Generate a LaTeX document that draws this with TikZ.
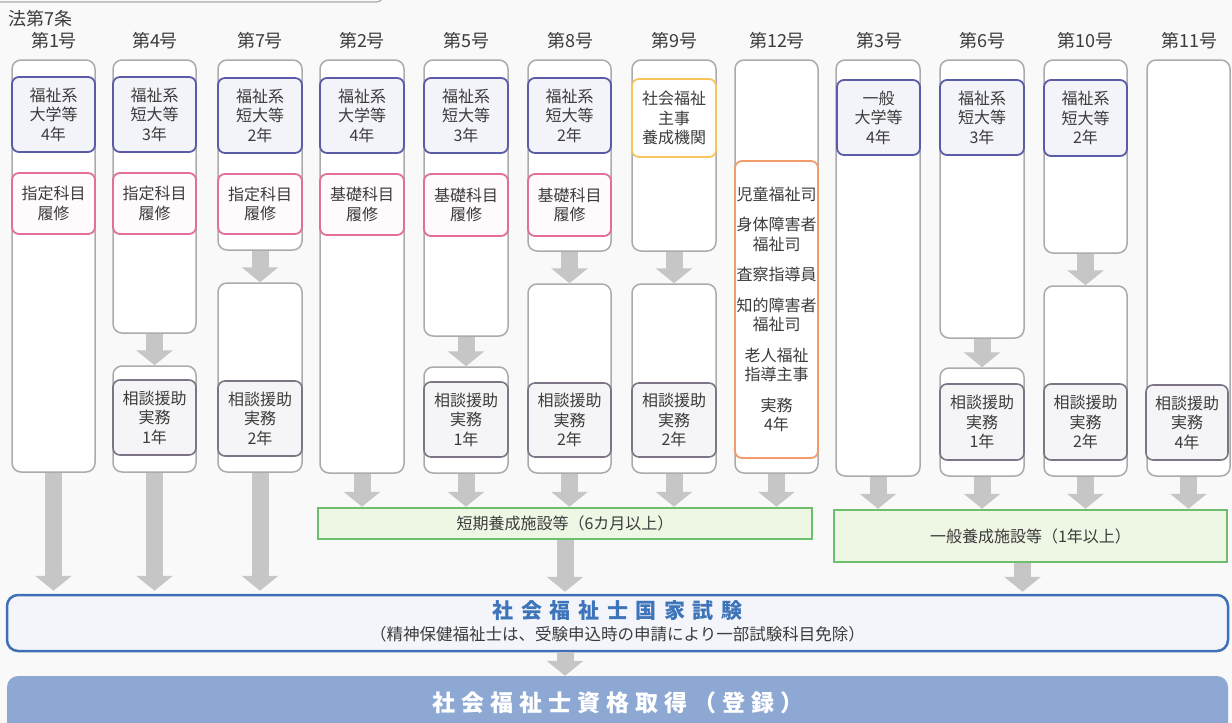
\documentclass[tikz,border=0pt]{standalone}
\usepackage{fontspec}
\setmainfont{Noto Sans CJK JP}
\newfontfamily\examfont[LetterSpace=36]{Noto Sans CJK JP}
\newfontfamily\finalfont[LetterSpace=26]{Noto Sans CJK JP}
\usetikzlibrary{arrows.meta}
\definecolor{bgc}{HTML}{F9F9F9}
\definecolor{gboxc}{HTML}{ABABAB}
\definecolor{bluc}{HTML}{5A5CA8}
\definecolor{bluf}{HTML}{F3F3FA}
\definecolor{pinkc}{HTML}{E46E9B}
\definecolor{pinkf}{HTML}{FFFAFC}
\definecolor{yelc}{HTML}{F7C55C}
\definecolor{orc}{HTML}{F39C6B}
\definecolor{grc}{HTML}{7D7585}
\definecolor{grf}{HTML}{F5F5F7}
\definecolor{grnc}{HTML}{6DBF6E}
\definecolor{grnf}{HTML}{EEF6E4}
\definecolor{examc}{HTML}{3E70B6}
\definecolor{examf}{HTML}{F3F5FA}
\definecolor{examt}{HTML}{3D74BA}
\definecolor{finalf}{HTML}{8EA8D4}
\definecolor{arrc}{HTML}{C6C6C6}
\definecolor{txtc}{HTML}{3C3C3C}
\newcommand\boxat[7]{%
  \node[#1, minimum width={(#4-#3)*1pt}, minimum height={(#6-#5)*1pt}] (#2) at ({(#3+#4)/2},{(#5+#6)/2}) {#7};}
\tikzset{
  base/.style={inner sep=0pt, align=center, text=txtc, font=\fontsize{16}{19.5}\selectfont},
  obox/.style={base, draw=gboxc, line width=1.5pt, rounded corners=9pt, fill=white},
  blu/.style={base, draw=bluc, line width=1.8pt, rounded corners=7pt, fill=bluf},
  pnk/.style={base, draw=pinkc, line width=1.8pt, rounded corners=7pt, fill=pinkf},
  yel/.style={base, draw=yelc, line width=1.8pt, rounded corners=7pt, fill=white},
  orb/.style={base, draw=orc, line width=1.8pt, rounded corners=7pt, fill=white},
  gry/.style={base, draw=grc, line width=1.6pt, rounded corners=7pt, fill=grf},
  grn/.style={base, draw=grnc, line width=2.5pt, fill=grnf},
  hdr/.style={inner sep=0pt, text=txtc, font=\fontsize{18}{20}\selectfont},
  barrow/.style={draw=arrc, line width=17pt, -{Triangle[width=36pt,length=15pt]}},
}
\begin{document}
\begin{tikzpicture}[x=1pt,y=-1pt]
\useasboundingbox (0,0) rectangle (1232,723);
\fill[bgc] (0,0) rectangle (1232,723);
\draw[gboxc, line width=1.2pt] (0,2) -- (376,2) to[out=0,in=-90] (384,-6);

% headers
\node[hdr, anchor=west] (law) at (8,19) {法第7条};
\node[hdr] (h1) at (54,41) {第1号};
\node[hdr] (h2) at (155,41) {第4号};
\node[hdr] (h3) at (260,41) {第7号};
\node[hdr] (h4) at (362,41) {第2号};
\node[hdr] (h5) at (466,41) {第5号};
\node[hdr] (h6) at (570,41) {第8号};
\node[hdr] (h7) at (674,41) {第9号};
\node[hdr] (h8) at (777,41) {第12号};
\node[hdr] (h9) at (879,41) {第3号};
\node[hdr] (h10) at (982,41) {第6号};
\node[hdr] (h11) at (1085,41) {第10号};
\node[hdr] (h12) at (1189,41) {第11号};

% column 1
\boxat{obox}{c1}{12}{95}{60}{472}{}
\boxat{blu}{c1b}{12}{95}{77}{152}{福祉系\\大学等\\4年}
\boxat{pnk}{c1p}{12}{95}{173}{234}{指定科目\\履修}
% column 2
\boxat{obox}{c2u}{113}{196}{60}{333}{}
\boxat{blu}{c2b}{113}{196}{77}{152}{福祉系\\短大等\\3年}
\boxat{pnk}{c2p}{113}{196}{173}{234}{指定科目\\履修}
\boxat{obox}{c2l}{113}{196}{366}{472}{}
\boxat{gry}{c2g}{113}{196}{380}{455}{相談援助\\実務\\1年}
% column 3
\boxat{obox}{c3u}{218}{302}{60}{250}{}
\boxat{blu}{c3b}{218}{302}{78}{153}{福祉系\\短大等\\2年}
\boxat{pnk}{c3p}{218}{302}{174}{234}{指定科目\\履修}
\boxat{obox}{c3l}{218}{302}{283}{472}{}
\boxat{gry}{c3g}{218}{302}{381}{456}{相談援助\\実務\\2年}
% column 4
\boxat{obox}{c4}{320}{404}{60}{473}{}
\boxat{blu}{c4b}{320}{404}{78}{153}{福祉系\\大学等\\4年}
\boxat{pnk}{c4p}{320}{404}{174}{235}{基礎科目\\履修}
% column 5
\boxat{obox}{c5u}{424}{508}{60}{336}{}
\boxat{blu}{c5b}{424}{508}{78}{153}{福祉系\\短大等\\3年}
\boxat{pnk}{c5p}{424}{508}{174}{236}{基礎科目\\履修}
\boxat{obox}{c5l}{424}{508}{367}{473}{}
\boxat{gry}{c5g}{424}{508}{382}{457}{相談援助\\実務\\1年}
% column 6
\boxat{obox}{c6u}{528}{611}{60}{251}{}
\boxat{blu}{c6b}{528}{611}{78}{153}{福祉系\\短大等\\2年}
\boxat{pnk}{c6p}{528}{611}{174}{236}{基礎科目\\履修}
\boxat{obox}{c6l}{528}{611}{284}{473}{}
\boxat{gry}{c6g}{528}{611}{383}{457}{相談援助\\実務\\2年}
% column 7
\boxat{obox}{c7u}{632}{716}{60}{251}{}
\boxat{yel}{c7y}{632}{716}{79}{157}{社会福祉\\主事\\養成機関}
\boxat{obox}{c7l}{632}{716}{284}{473}{}
\boxat{gry}{c7g}{632}{716}{383}{457}{相談援助\\実務\\2年}
% column 8
\boxat{obox}{c8}{735}{818}{60}{473}{}
\boxat{orb}{c8o}{735}{818}{161}{458}{児童福祉司\\[11pt]身体障害者\\福祉司\\[11pt]査察指導員\\[11pt]知的障害者\\福祉司\\[11pt]老人福祉\\指導主事\\[11pt]実務\\4年}
% column 9
\boxat{obox}{c9}{836}{920}{60}{476}{}
\boxat{blu}{c9b}{837}{920}{80}{155}{一般\\大学等\\4年}
% column 10
\boxat{obox}{c10u}{940}{1024}{60}{338}{}
\boxat{blu}{c10b}{940}{1024}{80}{155}{福祉系\\短大等\\3年}
\boxat{obox}{c10l}{940}{1024}{368}{476}{}
\boxat{gry}{c10g}{940}{1024}{384}{460}{相談援助\\実務\\1年}
% column 11
\boxat{obox}{c11u}{1044}{1127}{60}{253}{}
\boxat{blu}{c11b}{1044}{1127}{80}{156}{福祉系\\短大等\\2年}
\boxat{obox}{c11l}{1044}{1127}{286}{476}{}
\boxat{gry}{c11g}{1044}{1127}{384}{460}{相談援助\\実務\\2年}
% column 12
\boxat{obox}{c12}{1147}{1230}{60}{476}{}
\boxat{gry}{c12g}{1146}{1228}{385}{460}{相談援助\\実務\\4年}

% training facilities
\boxat{grn}{g1}{318}{812}{508}{539}{短期養成施設等（6カ月以上）}
\boxat{grn}{g2}{834}{1227}{510}{562}{一般養成施設等（1年以上）}

% exam
\node[draw=examc, line width=2.5pt, fill=examf, rounded corners=11pt, minimum width=1221pt, minimum height=56pt, inner sep=0pt] (exam) at (617.5,623) {};
\node[inner sep=0pt, text=examt, font=\examfont\bfseries\fontsize{21}{24}\selectfont] (examtitle) at ([yshift=12pt]exam.center) {社会福祉士国家試験};
\node[inner sep=0pt, text=txtc, font=\fontsize{16.5}{18}\selectfont] (examsub) at ([yshift=-11pt]exam.center) {（精神保健福祉士は、受験申込時の申請により一部試験科目免除）};

% final
\node[fill=finalf, rounded corners=11pt, minimum width=1221pt, minimum height=70pt, inner sep=0pt] (final) at (617.5,711) {};
\node[inner sep=0pt, text=white, font=\finalfont\bfseries\fontsize{23}{26}\selectfont] (finaltitle) at (618,703) {社会福祉士資格取得（登録）};

% arrows within columns
\draw[barrow] (c2u.south) -- (c2l.north);
\draw[barrow] (c3u.south) -- (c3l.north);
\draw[barrow] (c5u.south) -- (c5l.north);
\draw[barrow] (c6u.south) -- (c6l.north);
\draw[barrow] (c7u.south) -- (c7l.north);
\draw[barrow] (c10u.south) -- (c10l.north);
\draw[barrow] (c11u.south) -- (c11l.north);
% direct to exam
\draw[barrow] (c1.south) -- ([yshift=3pt]c1.south |- exam.north);
\draw[barrow] (c2l.south) -- ([yshift=3pt]c2l.south |- exam.north);
\draw[barrow] (c3l.south) -- ([yshift=3pt]c3l.south |- exam.north);
% to short course
\draw[barrow] (c4.south) -- (c4.south |- g1.north);
\draw[barrow] (c5l.south) -- (c5l.south |- g1.north);
\draw[barrow] (c6l.south) -- (c6l.south |- g1.north);
\draw[barrow] (c7l.south) -- (c7l.south |- g1.north);
\draw[barrow] (c8.south) -- (c8.south |- g1.north);
% to general course
\draw[barrow] (c9.south) -- (c9.south |- g2.north);
\draw[barrow] (c10l.south) -- (c10l.south |- g2.north);
\draw[barrow] (c11l.south) -- (c11l.south |- g2.north);
\draw[barrow] (c12.south) -- (c12.south |- g2.north);
% courses to exam
\draw[barrow] (g1.south) -- ([yshift=2pt]g1.south |- exam.north);
\draw[barrow] ([xshift=-8pt]g2.south) -- ([xshift=-8pt,yshift=2pt]g2.south |- exam.north);
% exam to final
\draw[barrow] (exam.south -| g1.south) -- (final.north -| g1.south);
\end{tikzpicture}
\end{document}
